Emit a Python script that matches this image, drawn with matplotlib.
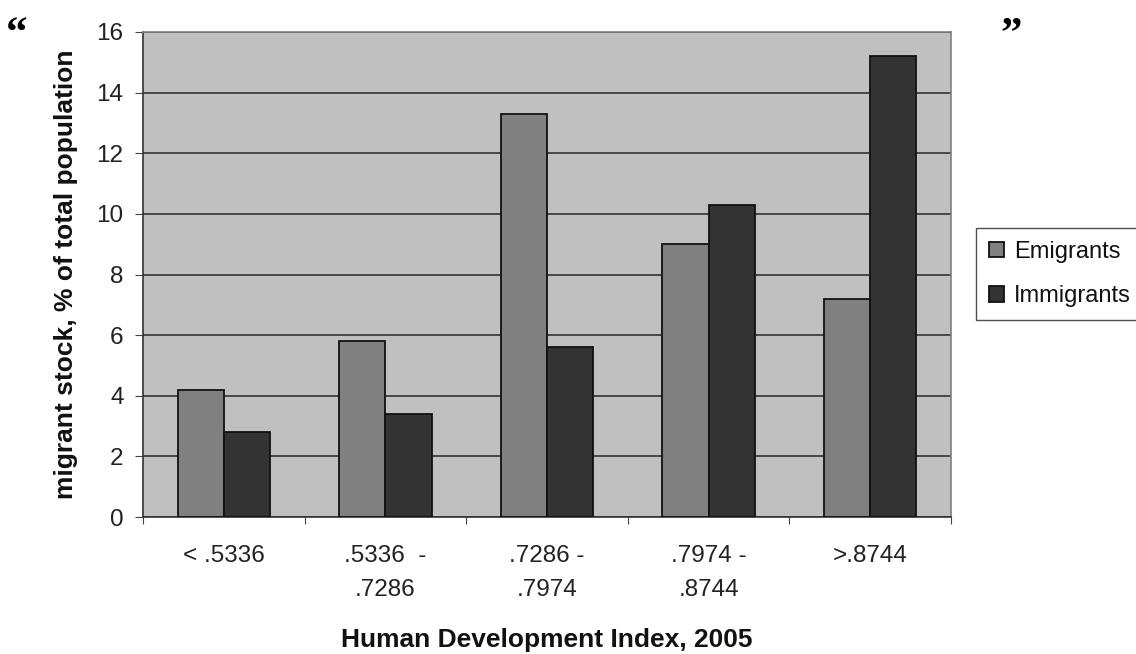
import matplotlib
matplotlib.use("Agg")
import matplotlib.pyplot as plt
import numpy as np

categories = ["< .5336", ".5336  -\n.7286", ".7286 -\n.7974", ".7974 -\n.8744", ">.8744"]
emigrants = [4.2, 5.8, 13.3, 9.0, 7.2]
immigrants = [2.8, 3.4, 5.6, 10.3, 15.2]
yticks = [0, 2, 4, 6, 8, 10, 12, 14, 16]

plt.rcParams['font.family'] = ['Liberation Sans', 'DejaVu Sans']

W, H = 1136, 654
fig = plt.figure(figsize=(W/100, H/100), dpi=100)
ax = fig.add_axes([143/W, 1-517/H, (951-143)/W, (517-32)/H])
ax.set_facecolor('#c0c0c0')

x = np.arange(len(categories))
w = 1/3.5
ax.bar(x - w/2, emigrants, width=w, color='#808080', edgecolor='#111111', linewidth=1.3, label='Emigrants', zorder=3)
ax.bar(x + w/2, immigrants, width=w, color='#333333', edgecolor='#111111', linewidth=1.3, label='Immigrants', zorder=3)

ax.set_xlim(-0.5, len(categories) - 0.5)
ax.set_ylim(0, 16)
ax.set_yticks(yticks)
ax.set_yticklabels([str(v) for v in yticks], fontsize=17.5, color='#222222')
ax.yaxis.grid(True, color='#333333', linewidth=1.2, zorder=1)
ax.set_axisbelow(True)

ax.set_xticks(np.arange(len(categories) + 1) - 0.5)
ax.set_xticklabels([])
ax.set_xticks(x, minor=True)
ax.set_xticklabels(categories, minor=True, fontsize=17.5, color='#222222', linespacing=1.7, va='top')
ax.tick_params(axis='x', which='minor', length=0, pad=20)
ax.tick_params(axis='x', which='major', length=5, direction='out', color='#444444')
ax.tick_params(axis='y', length=6, direction='out', color='#444444', pad=8)

for s in ['top', 'right']:
    ax.spines[s].set_color('#808080')
    ax.spines[s].set_linewidth(1.2)
for s in ['left', 'bottom']:
    ax.spines[s].set_color('#333333')
    ax.spines[s].set_linewidth(1.2)

fig.text(66/W, 1-274/H, 'migrant stock, % of total population', fontsize=19, fontweight='bold',
         rotation=90, ha='center', va='center', color='#111111')
fig.text(547/W, 1-640/H, 'Human Development Index, 2005', fontsize=19, fontweight='bold',
         ha='center', va='center', color='#111111')

leg = ax.legend(loc='upper left', bbox_to_anchor=(976/W, 1-228/H), bbox_transform=fig.transFigure,
                frameon=True, fancybox=False, edgecolor='#222222', facecolor='white', fontsize=17,
                handlelength=0.62, handleheight=0.62, handletextpad=0.45, labelspacing=0.95, borderpad=0.55,
                borderaxespad=0)
leg.get_frame().set_linewidth(1.0)
for t in leg.get_texts():
    t.set_color('#111111')

qfam = ['Liberation Serif', 'DejaVu Serif']
fig.text(6/W, 1-45/H, '\u201c', fontsize=31, fontweight='bold', family=qfam, va='baseline', ha='left')
fig.text(1000/W, 1-45/H, '\u201d', fontsize=31, fontweight='bold', family=qfam, va='baseline', ha='left')

fig.savefig('out.png', dpi=100, facecolor='white')
